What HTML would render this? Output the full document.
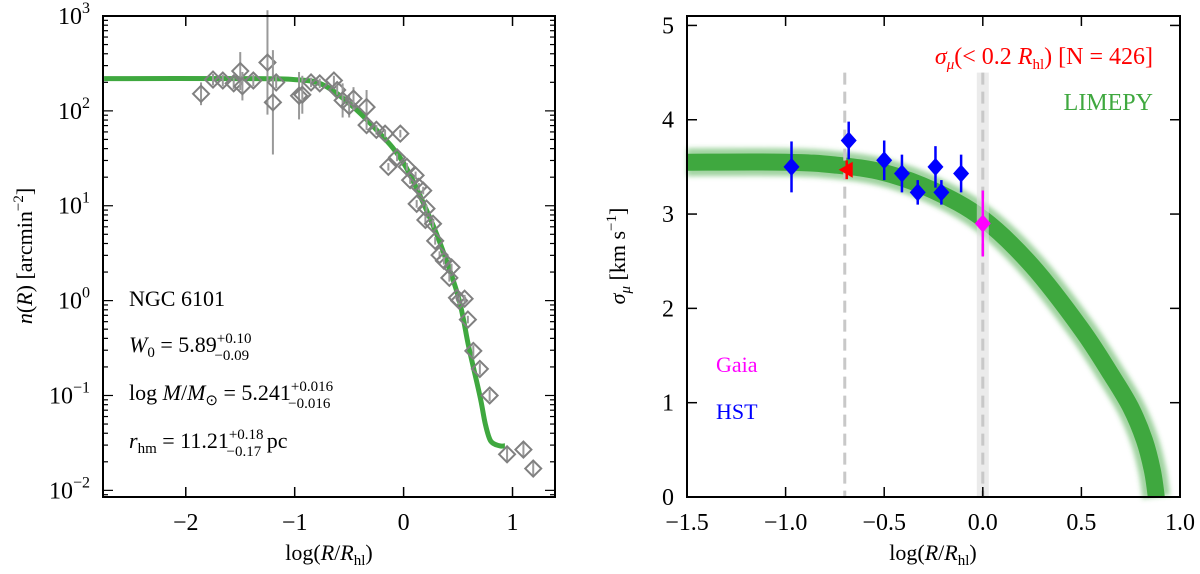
<!DOCTYPE html>
<html><head><meta charset="utf-8"><style>
body{margin:0;background:#fff;}
svg{font-family:"Liberation Serif",serif;}
</style></head><body>
<svg id="fig" width="1200" height="569" viewBox="0 0 1200 569">
<defs><filter id="blur" x="-5%" y="-20%" width="110%" height="140%"><feGaussianBlur stdDeviation="2.5"/></filter></defs>
<g id="left"></g>
<g id="right"></g>
</svg>
<script>
// ---- Left panel data ----
const densX=[-1.86,-1.75,-1.66,-1.56,-1.5,-1.48,-1.38,-1.25,-1.2,-1.17,-0.96,-0.93,-0.85,-0.77,-0.64,-0.61,-0.56,-0.5,-0.46,-0.34,-0.34,-0.25,-0.17,-0.03,-0.14,-0.06,0.03,0.06,0.11,0.14,0.18,0.12,0.21,0.20,0.27,0.29,0.33,0.37,0.44,0.42,0.49,0.51,0.56,0.59,0.64,0.7,0.79,0.95,1.1,1.19];
const densLog=[2.18,2.33,2.32,2.29,2.42,2.26,2.32,2.51,2.09,2.3,2.16,2.17,2.3,2.29,2.32,2.22,2.11,2.05,2.13,2.04,1.85,1.80,1.76,1.76,1.41,1.51,1.41,1.27,1.32,1.2,1.16,1.02,0.97,0.85,0.81,0.63,0.48,0.42,0.35,0.24,0.03,0.0,0.02,-0.2,-0.53,-0.72,-1.0,-1.62,-1.57,-1.77];
const densErr=[0.12,0.06,0.06,0.06,0.2,0.15,0.06,0.55,0.55,0.06,0.25,0.2,0.05,0.05,0.05,0.05,0.18,0.12,0.12,0.18,0.05,0.05,0.04,0.04,0.04,0.04,0.04,0.04,0.04,0.04,0.04,0.04,0.04,0.04,0.04,0.04,0.04,0.04,0.04,0.04,0.04,0.04,0.04,0.04,0.06,0.06,0.06,0.08,0.08,0.08];
const modelX=[-2.75,-1.5,-1.0,-0.75,-0.5,-0.25,0.0,0.25,0.4,0.5,0.55,0.6,0.7,0.75,0.8,0.88,0.93];
const modelLog=[2.34,2.34,2.33,2.28,2.08,1.8,1.45,0.85,0.4,0.05,-0.2,-0.5,-1.0,-1.3,-1.48,-1.53,-1.53];
const leftXTicks=[-2,-1,0,1];
const leftYTicks=[3,2,1,0,-1,-2];
// ---- Right panel data ----
const hstX=[-0.97,-0.68,-0.5,-0.41,-0.33,-0.24,-0.21,-0.11];
const hstY=[3.5,3.78,3.57,3.43,3.23,3.5,3.23,3.43];
const hstErr=[0.27,0.2,0.21,0.2,0.13,0.22,0.13,0.2];
const gaiaX=[0.0]; const gaiaY=[2.9]; const gaiaErr=[0.35];
const innerX=[-0.69]; const innerY=[3.47]; const innerErr=[0.1];
const sigX=[-1.5,-1.0,-0.75,-0.5,-0.25,0.0,0.25,0.5,0.65,0.75,0.82,0.86,0.88];
const sigY=[3.55,3.55,3.52,3.44,3.25,2.95,2.45,1.78,1.3,0.95,0.6,0.28,0.0];
const rightXTicks=[-1.5,-1.0,-0.5,0.0,0.5,1.0];
const rightYTicks=[0,1,2,3,4,5];

const NS="http://www.w3.org/2000/svg";
function mk(parent,tag,attrs,text){const e=document.createElementNS(NS,tag);for(const k in attrs)e.setAttribute(k,attrs[k]);if(text!==undefined)e.textContent=text;parent.appendChild(e);return e;}
function smooth(pts){let d='M'+pts[0][0].toFixed(1)+','+pts[0][1].toFixed(1);
  for(let i=0;i<pts.length-1;i++){const p0=pts[Math.max(0,i-1)],p1=pts[i],p2=pts[i+1],p3=pts[Math.min(pts.length-1,i+2)];
    const c1=[p1[0]+(p2[0]-p0[0])/6,p1[1]+(p2[1]-p0[1])/6],c2=[p2[0]-(p3[0]-p1[0])/6,p2[1]-(p3[1]-p1[1])/6];
    d+=`C${c1[0].toFixed(1)},${c1[1].toFixed(1)} ${c2[0].toFixed(1)},${c2[1].toFixed(1)} ${p2[0].toFixed(1)},${p2[1].toFixed(1)}`;}
  return d;}

// Left axes
const L={x0:103,x1:555,y0:16,y1:497,xmin:-2.76,xmax:1.39,ymin:-2.07,ymax:3};
const lx=v=>L.x0+(v-L.xmin)/(L.xmax-L.xmin)*(L.x1-L.x0);
const ly=v=>L.y1-(v-L.ymin)/(L.ymax-L.ymin)*(L.y1-L.y0);
const gl=document.getElementById('left');
let p=mk(gl,'path',{d:smooth(modelX.map((x,i)=>[lx(x),ly(modelLog[i])])),fill:'none',stroke:'#3fa83f','stroke-width':5});


densX.forEach((x,i)=>{
  const cx=lx(x),cy=ly(densLog[i]);
  const g=mk(gl,'g',{});
  
  
  mk(g,'line',{x1:cx,x2:cx,y1:ly(densLog[i]+densErr[i]),y2:ly(densLog[i]-densErr[i]),stroke:'#999','stroke-width':2});
  mk(g,'path',{d:`M${cx-8},${cy}L${cx},${cy-8}L${cx+8},${cy}L${cx},${cy+8}Z`,fill:'none',stroke:'#808080','stroke-width':2});
});
let fr=mk(gl,'rect',{x:L.x0,y:L.y0,width:L.x1-L.x0,height:L.y1-L.y0,fill:'none',stroke:'#000','stroke-width':2});


leftXTicks.forEach(v=>{const x=lx(v);
  mk(gl,'line',{x1:x,x2:x,y1:L.y1,y2:L.y1-10,stroke:'#000','stroke-width':1.5});
  mk(gl,'line',{x1:x,x2:x,y1:L.y0,y2:L.y0+10,stroke:'#000','stroke-width':1.5});
  const t=mk(gl,'text',{x:x,y:530,'font-size':24,'text-anchor':'middle'},(v<0?'−':'')+Math.abs(v));
  
  
});
for(let dec=-3;dec<3;dec++){for(let m=1;m<10;m++){const v=dec+Math.log10(m);if(v<L.ymin||v>L.ymax)continue;
  const y=ly(v),len=m===1?10:5;
  mk(gl,'line',{x1:L.x0,x2:L.x0+len,y1:y,y2:y,stroke:'#000','stroke-width':1.2});
  mk(gl,'line',{x1:L.x1,x2:L.x1-len,y1:y,y2:y,stroke:'#000','stroke-width':1.2});}}
leftYTicks.forEach(v=>{const y=ly(v);
  const t=mk(gl,'text',{x:90,y:y+8,'font-size':24,'text-anchor':'end'});
  
  
  mk(t,'tspan',{},'10');mk(t,'tspan',{dy:-11,'font-size':16},(v<0?'−':'')+Math.abs(v));
});

const fig=document.getElementById('fig');
function txt(html,attrs,name){const t=document.createElementNS(NS,'text');for(const k in attrs)t.setAttribute(k,attrs[k]);t.innerHTML=html;fig.appendChild(t);return t;}
txt('log(<tspan font-style="italic">R</tspan>/<tspan font-style="italic">R</tspan><tspan font-size="15" dy="5">hl</tspan><tspan dy="-5">)</tspan>',{x:329,y:560,'font-size':22,'text-anchor':'middle'},'left-x-axis-title');
txt('<tspan font-style="italic">n</tspan>(<tspan font-style="italic">R</tspan>) [arcmin<tspan font-size="15" dy="-9">−2</tspan><tspan dy="9">]</tspan>',{x:0,y:0,'font-size':22,'text-anchor':'middle',transform:'translate(32,256) rotate(-90)'},'left-y-axis-title');
txt('NGC 6101',{x:129,y:306,'font-size':22},'cluster-name');
txt('<tspan font-style="italic">W</tspan><tspan font-size="15" dy="5">0</tspan><tspan dy="-5"> = 5.89</tspan><tspan font-size="15" dy="-9">+0.10</tspan><tspan font-size="15" dx="-37" dy="17">−0.09</tspan>',{x:129,y:352,'font-size':22},'w0-annotation');
txt('log <tspan font-style="italic">M</tspan>/<tspan font-style="italic">M</tspan><tspan font-size="15" dy="5">⊙</tspan><tspan dy="-5"> = 5.241</tspan><tspan font-size="15" dy="-9">+0.016</tspan><tspan font-size="15" dx="-45" dy="17">−0.016</tspan>',{x:129,y:400,'font-size':22},'mass-annotation');
txt('<tspan font-style="italic">r</tspan><tspan font-size="15" dy="5">hm</tspan><tspan dy="-5"> = 11.21</tspan><tspan font-size="15" dy="-9">+0.18</tspan><tspan font-size="15" dx="-37" dy="17">−0.17</tspan><tspan dy="-8"> pc</tspan>',{x:129,y:448,'font-size':22},'rhm-annotation');

// Right axes
const R={x0:687,x1:1180,y0:16,y1:497,xmin:-1.5,xmax:1.0,ymin:0,ymax:5.1};
const rx=v=>R.x0+(v-R.xmin)/(R.xmax-R.xmin)*(R.x1-R.x0);
const ry=v=>R.y1-(v-R.ymin)/(R.ymax-R.ymin)*(R.y1-R.y0);
const gr=document.getElementById('right');
const sigPath=smooth(sigX.map((x,i)=>[rx(x),ry(sigY[i])]));
let band=mk(gr,'path',{d:sigPath,fill:'none',stroke:'#3fa83f','stroke-width':28,'stroke-opacity':0.5,filter:'url(#blur)'});


let core=mk(gr,'path',{d:sigPath,fill:'none',stroke:'#3fa83f','stroke-width':17});


let bg=mk(gr,'rect',{x:rx(0)-6,y:ry(4.5),width:12,height:ry(0)-ry(4.5),fill:'#ddd','fill-opacity':0.6});


[-0.7,0].forEach(v=>{const l=mk(gr,'line',{x1:rx(v),x2:rx(v),y1:ry(4.5),y2:R.y1,stroke:'#c8c8c8','stroke-width':3,'stroke-dasharray':'12,7'});
  });
function diamond(g,cx,cy,col){mk(g,'path',{d:`M${cx-8},${cy}L${cx},${cy-9}L${cx+8},${cy}L${cx},${cy+9}Z`,fill:col});}
hstX.forEach((x,i)=>{const g=mk(gr,'g',{});
  
  mk(g,'line',{x1:rx(x),x2:rx(x),y1:ry(hstY[i]+hstErr[i]),y2:ry(hstY[i]-hstErr[i]),stroke:'#0000ff','stroke-width':2.5});
  diamond(g,rx(x),ry(hstY[i]),'#0000ff');});
gaiaX.forEach((x,i)=>{const g=mk(gr,'g',{});
  
  mk(g,'line',{x1:rx(x),x2:rx(x),y1:ry(gaiaY[i]+gaiaErr[i]),y2:ry(gaiaY[i]-gaiaErr[i]),stroke:'#ff00ff','stroke-width':2.5});
  diamond(g,rx(x),ry(gaiaY[i]),'#ff00ff');});
innerX.forEach((x,i)=>{const g=mk(gr,'g',{});
  
  const cx=rx(x),cy=ry(innerY[i]);
  mk(g,'line',{x1:cx,x2:cx,y1:ry(innerY[i]+innerErr[i]),y2:ry(innerY[i]-innerErr[i]),stroke:'#ff0000','stroke-width':2.5});
  mk(g,'path',{d:`M${cx-8},${cy}L${cx+6},${cy-8}L${cx+6},${cy+8}Z`,fill:'#ff0000'});});
let fr2=mk(gr,'rect',{x:R.x0,y:R.y0,width:R.x1-R.x0,height:R.y1-R.y0,fill:'none',stroke:'#000','stroke-width':2});


rightXTicks.forEach(v=>{const x=rx(v);
  mk(gr,'line',{x1:x,x2:x,y1:R.y1,y2:R.y1-10,stroke:'#000','stroke-width':1.5});
  mk(gr,'line',{x1:x,x2:x,y1:R.y0,y2:R.y0+10,stroke:'#000','stroke-width':1.5});
  const t=mk(gr,'text',{x:x,y:530,'font-size':24,'text-anchor':'middle'},(v<0?'−':'')+Math.abs(v).toFixed(1));
  });
rightYTicks.forEach(v=>{const y=ry(v);
  mk(gr,'line',{x1:R.x0,x2:R.x0+10,y1:y,y2:y,stroke:'#000','stroke-width':1.5});
  mk(gr,'line',{x1:R.x1,x2:R.x1-10,y1:y,y2:y,stroke:'#000','stroke-width':1.5});
  const t=mk(gr,'text',{x:674,y:y+8,'font-size':24,'text-anchor':'end'},String(v));
  });
txt('log(<tspan font-style="italic">R</tspan>/<tspan font-style="italic">R</tspan><tspan font-size="15" dy="5">hl</tspan><tspan dy="-5">)</tspan>',{x:933,y:560,'font-size':22,'text-anchor':'middle'},'right-x-axis-title');
txt('<tspan font-style="italic">σ</tspan><tspan font-size="15" dy="5" font-style="italic">μ</tspan><tspan dy="-5"> [km s</tspan><tspan font-size="15" dy="-9">−1</tspan><tspan dy="9">]</tspan>',{x:0,y:0,'font-size':22,'text-anchor':'middle',transform:'translate(625,256) rotate(-90)'},'right-y-axis-title');
txt('<tspan font-style="italic">σ</tspan><tspan font-size="15" dy="5" font-style="italic">μ</tspan><tspan dy="-5">(&lt; 0.2 </tspan><tspan font-style="italic">R</tspan><tspan font-size="15" dy="5">hl</tspan><tspan dy="-5">) [N = 426]</tspan>',{x:1153,y:64,'font-size':24,'text-anchor':'end',fill:'#ff0000'},'inner-dispersion-label');
txt('LIMEPY',{x:1153,y:110,'font-size':24,'text-anchor':'end',fill:'#3fa83f'},'limepy-legend');
txt('Gaia',{x:716,y:372,'font-size':22,fill:'#ff00ff'},'gaia-legend');
txt('HST',{x:716,y:419,'font-size':22,fill:'#0000ff'},'hst-legend');
</script>
</body></html>
